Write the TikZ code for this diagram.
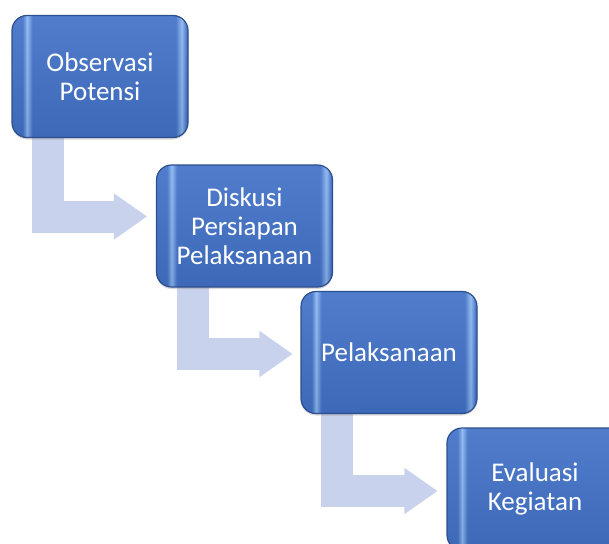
\documentclass[tikz,border=0pt]{standalone}
\usepackage{fontspec}
\setmainfont{Carlito}
\usetikzlibrary{arrows.meta,calc,shadows,backgrounds}
\definecolor{boxmid}{RGB}{66,114,200}
\definecolor{boxhl}{RGB}{140,184,242}
\definecolor{boxedge}{RGB}{45,78,140}
\definecolor{flowc}{RGB}{201,210,236}
\pgfdeclarehorizontalshading{boxbevel}{100bp}{color(0bp)=(boxmid); color(25bp)=(boxmid); color(28bp)=(boxmid); color(29.3bp)=(boxhl); color(30.8bp)=(boxmid); color(71.5bp)=(boxmid); color(73.2bp)=(boxhl); color(74.5bp)=(boxmid); color(100bp)=(boxmid)}

\begin{document}
\begin{tikzpicture}[x=1pt, y=-1pt,
  stepbox/.style={rounded corners=15pt, minimum width=176pt, minimum height=122pt,
    draw=boxedge, line width=1.2pt, shading=boxbevel, text=white, align=center,
    inner sep=0pt, font=\fontsize{27}{29}\selectfont,
    drop shadow={shadow xshift=0pt, shadow yshift=-2pt, opacity=0.3},
    path picture={\shade[top color=white, bottom color=black, opacity=0.08]
      (path picture bounding box.north west) rectangle (path picture bounding box.south east);}},
  flow/.style={draw=flowc, line width=32pt,
    -{Triangle[width=46pt, length=33pt, line width=1.5pt, color=flowc]}}]
  \useasboundingbox (0,0) rectangle (609,543);
  \clip (0,0) rectangle (609,543);

  % Steps
  \node[stepbox] (obs) at (100,76.5) {Observasi\\Potensi};
  \node[stepbox] (disk) at (244.5,226) {Diskusi\\Persiapan\\Pelaksanaan};
  \node[stepbox] (pel) at (389,352.5) {Pelaksanaan};
  \node[stepbox] (eval) at (535,489) {Evaluasi\\Kegiatan};

  % Bent arrows
  \begin{scope}[on background layer]
    \draw[flow] ($(obs.south west)+(37,-5)$) |- ($(disk.west)+(-9,-9.5)$);
    \draw[flow] ($(disk.south west)+(37,-5)$) |- ($(pel.west)+(-8,1.5)$);
    \draw[flow] ($(pel.south west)+(36.5,-5)$) |- ($(eval.west)+(-9,2)$);
  \end{scope}
\end{tikzpicture}
\end{document}
